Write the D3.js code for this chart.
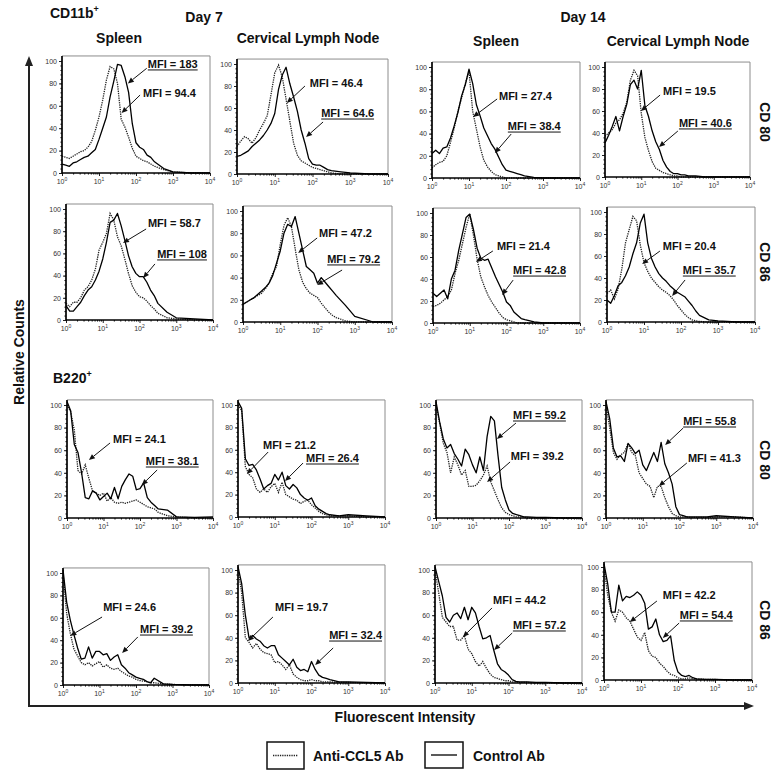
<!DOCTYPE html>
<html><head><meta charset="utf-8">
<script src="https://cdn.jsdelivr.net/npm/d3@7"></script>
<style>
body{margin:0;background:#fff}
svg{display:block}
text{font-family:"Liberation Sans",Arial,Helvetica,sans-serif}
</style>
</head><body>
<svg id="c" width="781" height="778"></svg>
<script>
// ---------------- DATA ----------------
// fluorescence channels (x grid, log-spaced 10^0 .. 10^4)
const channels = [1,1.259,1.585,1.995,2.512,3.162,3.981,5.012,6.31,7.943,10,12.59,15.85,19.95,25.12,31.62,39.81,50.12,63.1,79.43,100,125.9,158.5,199.5,251.2,316.2,562.3,1000,3162,10000];

// CD11b+ , Day 7 , Spleen , CD80
const cd11b_d7_spl_cd80_anti = [15,14,13,15,17,19,20,23,28,38,50,65,83,95,93,80,48,41,32,22,15,13,11,10,8,6,3,1,0,0];
const cd11b_d7_spl_cd80_ctrl = [8,7,6,9,10,12,14,15,18,21,30,40,50,68,82,97,96,86,72,44,27,23,21,16,14,10,4,1,0,0];
// CD11b+ , Day 7 , Cervical LN , CD80
const cd11b_d7_cln_cd80_anti = [25,30,34,32,28,33,40,46,53,72,92,99,88,68,48,28,17,12,10,8,6,5,4,3,2,1,0,0,0,0];
const cd11b_d7_cln_cd80_ctrl = [16,17,19,21,25,28,31,35,40,46,55,77,90,97,82,70,57,40,28,14,9,8,8,6,4,3,2,1,0,0];
// CD11b+ , Day 14 , Spleen , CD80
const cd11b_d14_spl_cd80_anti = [9,12,14,15,20,32,45,60,72,85,96,60,44,28,16,10,6,3,2,1,0,0,0,0,0,0,0,0,0,0];
const cd11b_d14_spl_cd80_ctrl = [22,25,22,27,28,36,47,59,74,84,98,85,66,56,45,38,31,26,19,12,7,6,5,4,3,2,0.5,0,0,0];
// CD11b+ , Day 14 , Cervical LN , CD80
const cd11b_d14_cln_cd80_anti = [37,40,43,49,52,58,68,88,97,92,58,36,24,14,8,6,4,3,2,1,1,0,0,0,0,0,0,0,0,0];
const cd11b_d14_cln_cd80_ctrl = [31,38,46,55,42,55,66,84,88,80,97,65,55,42,32,25,15,9,5,3,3,2,2,1,1,1,0,0,0,0];
// CD11b+ , Day 7 , Spleen , CD86
const cd11b_d7_spl_cd86_anti = [15,12,16,16,20,27,30,36,46,63,70,78,96,90,75,67,55,42,31,25,21,20,17,13,10,6,2,1,0,0];
const cd11b_d7_spl_cd86_ctrl = [13,8,8,12,16,22,27,30,36,44,55,70,88,90,96,85,72,58,48,42,39,39,34,27,22,15,7,2,1,0];
// CD11b+ , Day 7 , Cervical LN , CD86
const cd11b_d7_cln_cd86_anti = [16,18,20,22,24,26,30,35,44,50,70,87,94,86,66,47,36,30,26,24,22,17,13,9,6,4,1,0,0,0];
const cd11b_d7_cln_cd86_ctrl = [16,18,20,22,25,28,31,35,42,53,64,80,88,86,95,80,65,50,47,44,35,40,36,32,28,24,15,5,0,0];
// CD11b+ , Day 14 , Spleen , CD86
const cd11b_d14_spl_cd86_anti = [15,16,18,21,24,30,45,57,72,87,99,80,58,42,33,25,19,14,9,5,3,2,1,0,0,0,0,0,0,0];
const cd11b_d14_spl_cd86_ctrl = [27,24,27,30,22,40,48,66,81,96,99,85,68,59,57,58,50,42,35,28,19,16,10,7,4,3,1,0,0,0];
// CD11b+ , Day 14 , Cervical LN , CD86
const cd11b_d14_cln_cd86_anti = [26,29,21,30,48,72,84,96,92,70,54,46,40,36,32,29,27,24,20,15,11,7,4,2,1,0.5,0,0,0,0];
const cd11b_d14_cln_cd86_ctrl = [20,17,24,33,36,42,50,62,72,90,98,72,58,50,44,40,37,33,30,27,25,23,19,15,10,6,2,1,0,0];
// B220+ , Day 7 , Spleen , CD80
const b220_d7_spl_cd80_anti = [100,94,78,42,39,47,35,24,22,20,22,15,18,14,13,14,13,14,15,16,14,12,10,9,8,5,2,1,0,0];
const b220_d7_spl_cd80_ctrl = [103,95,65,58,40,18,17,24,22,16,19,22,17,27,17,28,34,39,37,25,26,31,18,14,11,8,7,1,0.5,1];
// B220+ , Day 7 , Cervical LN , CD80
const b220_d7_cln_cd80_anti = [100,95,45,38,35,25,22,25,22,27,30,22,31,20,18,16,15,12,14,15,11,8,5,3,2,1,1,1,0,0];
const b220_d7_cln_cd80_ctrl = [103,97,52,46,47,42,34,25,28,30,38,33,40,28,25,29,26,20,17,15,17,10,7,5,3,2,1,2,1,0];
// B220+ , Day 14 , Spleen , CD80
const b220_d14_spl_cd80_anti = [100,84,66,58,40,54,47,38,42,28,28,29,33,38,46,32,24,16,9,5,3,2,1,1,1,0,0,0,0,0];
const b220_d14_spl_cd80_ctrl = [103,85,70,62,65,57,52,46,61,56,47,40,54,42,72,90,86,55,27,16,7,4,3,2,1,1,0.5,0.5,0,0];
// B220+ , Day 14 , Cervical LN , CD80
const b220_d14_cln_cd80_anti = [100,80,58,52,56,58,66,58,55,40,35,30,28,18,28,28,18,10,4,2,1,1,1,0.5,0.5,0.5,0.5,1,1,0];
const b220_d14_cln_cd80_ctrl = [103,88,62,54,55,50,66,62,57,60,47,42,50,58,50,67,48,40,30,10,3,2,1,1,1,1,1,2,1,0];
// B220+ , Day 7 , Spleen , CD86
const b220_d7_spl_cd86_anti = [100,64,46,32,26,20,18,20,17,19,21,16,18,15,14,15,12,10,8,7,5,4,3.5,3,2,2,1,0.5,0,0];
const b220_d7_spl_cd86_ctrl = [103,74,58,45,33,23,24,34,24,30,30,27,28,22,25,27,18,15,11,9,7,6,5,3,2,6,1,0.5,0,0];
// B220+ , Day 7 , Cervical LN , CD86
const b220_d7_cln_cd86_anti = [100,80,40,36,31,35,30,27,26,25,18,19,16,12,16,8,5,3,2,2,3,2,2,1,1,1,0.5,0.5,0,0];
const b220_d7_cln_cd86_ctrl = [103,88,60,40,42,39,37,33,31,33,33,25,22,19,16,21,14,11,12,10,19,12,7,5,4,3,1,1,0.5,0];
// B220+ , Day 14 , Spleen , CD86
const b220_d14_spl_cd86_anti = [100,80,58,54,50,50,38,38,42,30,26,19,15,19,13,8,5,4,3,2,2,1,1,0.5,0.5,0.5,0,0,0,0];
const b220_d14_spl_cd86_ctrl = [103,90,77,58,54,60,62,57,67,56,67,62,50,39,40,42,29,17,12,10,7,3,1.5,1,1,1,0.5,0.5,0,0];
// B220+ , Day 14 , Cervical LN , CD86
const b220_d14_cln_cd86_anti = [100,75,60,52,62,60,55,52,45,38,35,42,26,21,20,15,12,8,5,4,2,1,1,2,1,1,0.5,0.5,0,0];
const b220_d14_cln_cd86_ctrl = [103,85,60,60,84,70,74,73,75,78,75,68,45,47,54,40,34,35,39,17,7,4,3,4,2,1,0.5,0.5,0,0];

// MFI values (panel order: row by row, left to right)
const mfiAnti = [94.4,46.4,27.4,19.5,58.7,47.2,21.4,20.4,24.1,21.2,39.2,41.3,24.6,19.7,44.2,42.2];
const mfiCtrl = [183,64.6,38.4,40.6,108,79.2,42.8,35.7,38.1,26.4,59.2,55.8,39.2,32.4,57.2,54.4];

// tick labels
const yTicks = [0,20,40,60,80,100];
const xTickExps = [0,1,2,3,4];

// text labels
const cellTypes = ["CD11b","B220"];
const days = ["Day 7","Day 14"];
const tissues = ["Spleen","Cervical Lymph Node","Spleen","Cervical Lymph Node"];
const markers = ["CD 80","CD 86","CD 80","CD 86"];
const legendLabels = ["Anti-CCL5 Ab","Control Ab"];

const seriesAnti = [cd11b_d7_spl_cd80_anti,cd11b_d7_cln_cd80_anti,cd11b_d14_spl_cd80_anti,cd11b_d14_cln_cd80_anti,
  cd11b_d7_spl_cd86_anti,cd11b_d7_cln_cd86_anti,cd11b_d14_spl_cd86_anti,cd11b_d14_cln_cd86_anti,
  b220_d7_spl_cd80_anti,b220_d7_cln_cd80_anti,b220_d14_spl_cd80_anti,b220_d14_cln_cd80_anti,
  b220_d7_spl_cd86_anti,b220_d7_cln_cd86_anti,b220_d14_spl_cd86_anti,b220_d14_cln_cd86_anti];
const seriesCtrl = [cd11b_d7_spl_cd80_ctrl,cd11b_d7_cln_cd80_ctrl,cd11b_d14_spl_cd80_ctrl,cd11b_d14_cln_cd80_ctrl,
  cd11b_d7_spl_cd86_ctrl,cd11b_d7_cln_cd86_ctrl,cd11b_d14_spl_cd86_ctrl,cd11b_d14_cln_cd86_ctrl,
  b220_d7_spl_cd80_ctrl,b220_d7_cln_cd80_ctrl,b220_d14_spl_cd80_ctrl,b220_d14_cln_cd80_ctrl,
  b220_d7_spl_cd86_ctrl,b220_d7_cln_cd86_ctrl,b220_d14_spl_cd86_ctrl,b220_d14_cln_cd86_ctrl];

// ---------------- LAYOUT ----------------
// plot boxes: [x at 10^0, x at 10^4, y at 0, y at 100]
const boxes = [[62,210,173,61],[237,388,174,64],[432,580,178,67],[605,750,177,67],
  [66,213,320,209],[243,392,322,211],[433,580,323,213],[607,755,322,212],
  [67,213,518,405],[238,385,517,405],[436,582,518,405],[606,753,518,405],
  [63,209,685,573],[238,385,683,570],[435,582,683,570],[604,752,680,567]];
// annotation placement in data units: [text logX, text count, arrow-start logX, count, tip logX, count]
const annoAntiPos = [
  [2.19,67.9,2.11,69.6,1.61,53.6],[1.93,79.1,1.80,80,1.32,64.5],[1.81,70.3,1.76,71.2,1.11,55],[1.60,74.5,1.52,74.5,0.99,60],
  [2.23,83.8,2.18,82,1.55,69.4],[2.04,76.6,1.99,75.7,1.48,62.2],[1.74,66.4,1.63,65.5,1.17,55.5],[1.51,65.5,1.43,64.5,0.95,52.7],
  [1.26,66.4,1.18,66.4,0.60,51.3],[0.68,60.7,0.82,58,0.24,38.4],[2.05,51.3,2.03,49.6,1.40,31.9],[2.23,49.6,2.20,48.7,1.44,28.3],
  [1.10,66.1,1.07,60.7,0.20,44],[1.01,63.7,0.95,58.4,0.27,37.2],[1.58,69.9,1.55,66.4,0.76,40.7],[1.59,71.7,1.43,69.9,0.70,51.3]];
const annoCtrlPos = [
  [2.32,93.8,2.29,93.5,1.78,80],[2.23,51.8,2.28,47.3,1.83,33.6],[2.05,43.2,2.14,39.6,1.70,22.5],[2.04,45.5,2.01,41.8,1.49,27.3],
  [2.48,55.9,2.42,50.5,2.10,37.8],[2.26,53.2,2.66,46.8,1.99,33.3],[2.18,44.5,2.18,39,1.88,25.5],[2.05,43.6,2.11,38.2,1.76,23.6],
  [2.16,46.9,2.47,42.5,2.05,29.2],[1.85,49.1,1.77,48.2,1.28,32.1],[2.11,87.6,2.19,84,1.67,70],[2.10,82.3,2.10,79.6,1.61,64.6],
  [2.11,46.4,2.05,42.9,1.62,28.6],[2.48,38.9,2.59,31,2.10,15.9],[2.12,47.8,2.10,44.2,1.61,29.2],[2.05,54,2.03,50.4,1.59,37.2]];

// ---------------- DRAW ----------------
const svg = d3.select("#c");
const INK = "#111";

function arrow(g, ax, ay, bx, by){
  const ang = Math.atan2(by-ay, bx-ax), L = 6, W = 2.6;
  const hx = bx - L*Math.cos(ang), hy = by - L*Math.sin(ang);
  g.append("line").attr("x1",ax).attr("y1",ay).attr("x2",hx).attr("y2",hy)
    .attr("stroke",INK).attr("stroke-width",1);
  g.append("path").attr("d",`M${bx},${by}L${hx+W*Math.sin(ang)},${hy-W*Math.cos(ang)}L${hx-W*Math.sin(ang)},${hy+W*Math.cos(ang)}Z`)
    .attr("fill",INK);
}

boxes.forEach((b,i)=>{
  const [x0,x1,y0,y1] = b;
  const x = d3.scaleLog().domain([1,1e4]).range([x0,x1]);
  const y = d3.scaleLinear().domain([0,100]).range([y0,y1]);
  const X = e => x(Math.pow(10,e));
  const g = svg.append("g");
  const yTop = y(104.5);

  // frame (top/right gray)
  g.append("path").attr("d",`M${x0},${yTop}H${x1}V${y0}`).attr("fill","none")
    .attr("stroke","#8c8c8c").attr("stroke-width",1);

  // curves
  const line = d3.line().x((d,j)=>x(channels[j])).y(d=>y(Math.min(d,104.5))).curve(d3.curveLinear);
  g.append("path").datum(seriesAnti[i]).attr("d",line).attr("fill","none")
    .attr("stroke","#222").attr("stroke-width",1.3).attr("stroke-dasharray","1.3,1");
  g.append("path").datum(seriesCtrl[i]).attr("d",line).attr("fill","none")
    .attr("stroke","#000").attr("stroke-width",1.3).attr("stroke-linejoin","round");

  // y axis
  const ya = g.append("g").attr("transform",`translate(${x0},0)`)
    .call(d3.axisLeft(y).tickValues(yTicks).tickSize(3).tickPadding(2));
  ya.select(".domain").remove();
  ya.selectAll("line").attr("stroke","#222");
  ya.selectAll("text").attr("font-size",7).attr("fill","#333")
    .attr("font-family",'"Liberation Sans",Arial,sans-serif');
  const ym = g.append("g").attr("transform",`translate(${x0},0)`)
    .call(d3.axisLeft(y).tickValues(d3.range(0,104,4)).tickSize(1.6).tickFormat(""));
  ym.select(".domain").remove();
  ym.selectAll("line").attr("stroke","#222");

  // x axis
  const xa = g.append("g").attr("transform",`translate(0,${y0})`)
    .call(d3.axisBottom(x).tickValues(xTickExps.map(e=>Math.pow(10,e))).tickSize(3).tickFormat(""));
  xa.select(".domain").remove();
  xa.selectAll("line").attr("stroke","#222");
  const minor = [];
  [1,10,100,1000].forEach(d=>{ for(let k=2;k<10;k++) minor.push(d*k); });
  const xm = g.append("g").attr("transform",`translate(0,${y0})`)
    .call(d3.axisBottom(x).tickValues(minor).tickSize(1.6).tickFormat(""));
  xm.select(".domain").remove();
  xm.selectAll("line").attr("stroke","#222");
  xTickExps.forEach(e=>{
    const t = g.append("text").attr("x",X(e)).attr("y",y0+11).attr("text-anchor","middle")
      .attr("font-size",7).attr("fill","#333");
    t.append("tspan").text("10");
    t.append("tspan").attr("font-size",5).attr("dy",-3).text(String(e));
  });

  // axis lines (left & bottom black)
  g.append("line").attr("x1",x0).attr("x2",x0).attr("y1",y0+0.5).attr("y2",yTop)
    .attr("stroke","#000").attr("stroke-width",1.7);
  g.append("line").attr("x1",x0).attr("x2",x1).attr("y1",y0).attr("y2",y0)
    .attr("stroke","#000").attr("stroke-width",1.6);

  // annotations
  function anno(pos, label, underline){
    const [tx,ty,sx,sy,ex,ey] = pos;
    const t = g.append("text").attr("x",X(tx)).attr("y",y(ty)).attr("font-size",11)
      .attr("font-weight","bold").attr("fill",INK).text(label);
    if(underline){
      const w = t.node().getComputedTextLength();
      g.append("line").attr("x1",X(tx)).attr("x2",X(tx)+w).attr("y1",y(ty)+2).attr("y2",y(ty)+2)
        .attr("stroke",INK).attr("stroke-width",1);
    }
    arrow(g, X(sx), y(sy), X(ex), y(ey));
  }
  anno(annoAntiPos[i], "MFI = " + mfiAnti[i], false);
  anno(annoCtrlPos[i], "MFI = " + mfiCtrl[i], true);
});

// headings
function bold(txt, xx, yy, size, anchor){
  return svg.append("text").attr("x",xx).attr("y",yy).attr("font-size",size).attr("font-weight","bold")
    .attr("fill",INK).attr("text-anchor",anchor||"start").text(txt);
}
function supLabel(txt, xx, yy){
  const t = svg.append("text").attr("x",xx).attr("y",yy).attr("font-size",14).attr("font-weight","bold").attr("fill",INK);
  t.append("tspan").text(txt);
  t.append("tspan").attr("font-size",9).attr("dy",-6).text("+");
}
supLabel(cellTypes[0], 50, 18);
supLabel(cellTypes[1], 53, 383);
bold(days[0], 204, 22, 14, "middle");
bold(days[1], 583, 22, 14, "middle");
[[119,43],[308,43],[496,46],[678,46]].forEach((p,k)=>bold(tissues[k], p[0], p[1], 14, "middle"));
[122,262,460,620].forEach((yy,k)=>{
  svg.append("text").attr("transform",`translate(760,${yy}) rotate(90)`).attr("text-anchor","middle")
    .attr("font-size",14).attr("font-weight","bold").attr("fill",INK).text(markers[k]);
});

// global axes arrows
svg.append("line").attr("x1",29).attr("y1",706).attr("y2",64).attr("x2",29).attr("stroke","#222").attr("stroke-width",2);
svg.append("path").attr("d","M29,56L25,66L33,66Z").attr("fill","#222");
svg.append("line").attr("x1",28).attr("y1",706).attr("x2",745).attr("y2",706).attr("stroke","#222").attr("stroke-width",2);
svg.append("path").attr("d","M754,706L744,702L744,710Z").attr("fill","#222");
svg.append("text").attr("transform","translate(24,352) rotate(-90)").attr("text-anchor","middle")
  .attr("font-size",14).attr("font-weight","bold").attr("fill",INK).text("Relative Counts");
bold("Fluorescent Intensity", 405, 722, 14, "middle");

// legend
svg.append("rect").attr("x",267).attr("y",742).attr("width",37).attr("height",27).attr("fill","none").attr("stroke","#111").attr("stroke-width",1.5);
svg.append("line").attr("x1",273).attr("x2",298).attr("y1",755.5).attr("y2",755.5).attr("stroke","#222").attr("stroke-width",1.3).attr("stroke-dasharray","1.3,1");
svg.append("rect").attr("x",425).attr("y",742).attr("width",38).attr("height",26).attr("fill","none").attr("stroke","#111").attr("stroke-width",1.5);
svg.append("line").attr("x1",431).attr("x2",457).attr("y1",755).attr("y2",755).attr("stroke","#000").attr("stroke-width",1.3);
bold(legendLabels[0], 313, 761, 14);
bold(legendLabels[1], 473, 761, 14);
</script>
</body></html>
